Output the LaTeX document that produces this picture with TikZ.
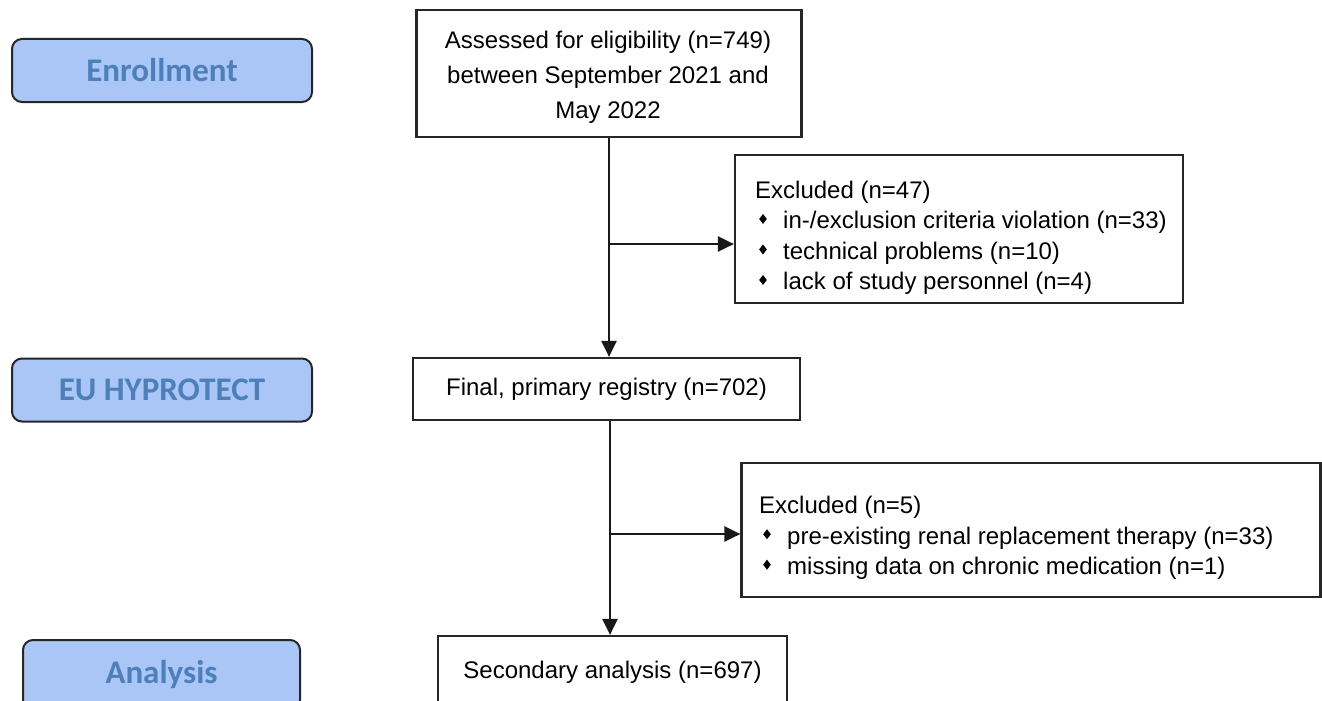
\documentclass[tikz,border=0pt]{standalone}
\usepackage{fontspec}
\setmainfont{Liberation Sans}
\newfontfamily\labfont{Carlito}
\usetikzlibrary{arrows.meta}
\definecolor{stagefill}{HTML}{A9C6F7}
\definecolor{stagetext}{HTML}{4D80B9}
\newcommand{\bul}{\makebox[28pt][l]{\hspace{4pt}\raisebox{5pt}{\tikz\fill (0,0)--(3.8pt,5pt)--(7.6pt,0)--(3.8pt,-5pt)--cycle;}}}
\begin{document}
\begin{tikzpicture}[x=1pt,y=-1pt,
  stage/.style={draw=black!85, line width=2pt, rounded corners=10pt, fill=stagefill,
    minimum width=300pt, minimum height=63pt, text=stagetext,
    font=\labfont\bfseries\fontsize{33}{36}\selectfont},
  flowbox/.style={draw=black!85, line width=2.2pt, fill=white, inner sep=0pt,
    font=\fontsize{24}{36.5}\selectfont, align=center},
  boxtext/.style={inner sep=0pt, align=center, font=\fontsize{24}{35}\selectfont},
  listtext/.style={align=left, inner sep=0pt, anchor=west, font=\fontsize{24}{30.5}\selectfont},
  conn/.style={line width=2.4pt, draw=black!90},
  arr/.style={conn, -{Triangle[length=16pt,width=15pt]}}
]
\useasboundingbox (0,0) rectangle (1322,701);
% stage labels
\node[stage] (enr) at (162,70.5) {Enrollment};
\node[stage] (eu) at (162,390) {EU HYPROTECT};
\node[stage, minimum width=277pt, minimum height=70pt] (ana) at (161.5,675) {Analysis};
% flow boxes
\node[flowbox, minimum width=385pt, minimum height=127pt] (b1) at (609,73.5) {};
\node[boxtext] (b1t) at (608,77)
  {Assessed for eligibility (n=749)\\between September 2021 and\\May 2022};
\node[flowbox, minimum width=448pt, minimum height=148pt] (b2) at (959,229) {};
\node[listtext] (b2t) at (755,238)
  {Excluded (n=47)\\
   \bul in-/exclusion criteria violation (n=33)\\
   \bul technical problems (n=10)\\
   \bul lack of study personnel (n=4)};
\node[flowbox, minimum width=387pt, minimum height=62pt] (b3) at (606.5,389)
  {Final, primary registry (n=702)};
\node[flowbox, minimum width=579pt, minimum height=134pt] (b4) at (1031,530) {};
\node[listtext] (b4t) at (759,538)
  {Excluded (n=5)\\
   \bul pre-existing renal replacement therapy (n=33)\\
   \bul missing data on chronic medication (n=1)};
\node[flowbox, minimum width=349pt, minimum height=72pt] (b5) at (612.5,672)
  {Secondary analysis (n=697)};
% connectors
\coordinate (j1) at (609,244);
\coordinate (j2) at (610,534);
\draw[arr] (b1.south -| j1) -- (b3.north -| j1);
\draw[arr] (j1) -- (j1 -| b2.west);
\draw[arr] (b3.south -| j2) -- (b5.north -| j2);
\draw[arr] (j2) -- (j2 -| b4.west);
\end{tikzpicture}
\end{document}
